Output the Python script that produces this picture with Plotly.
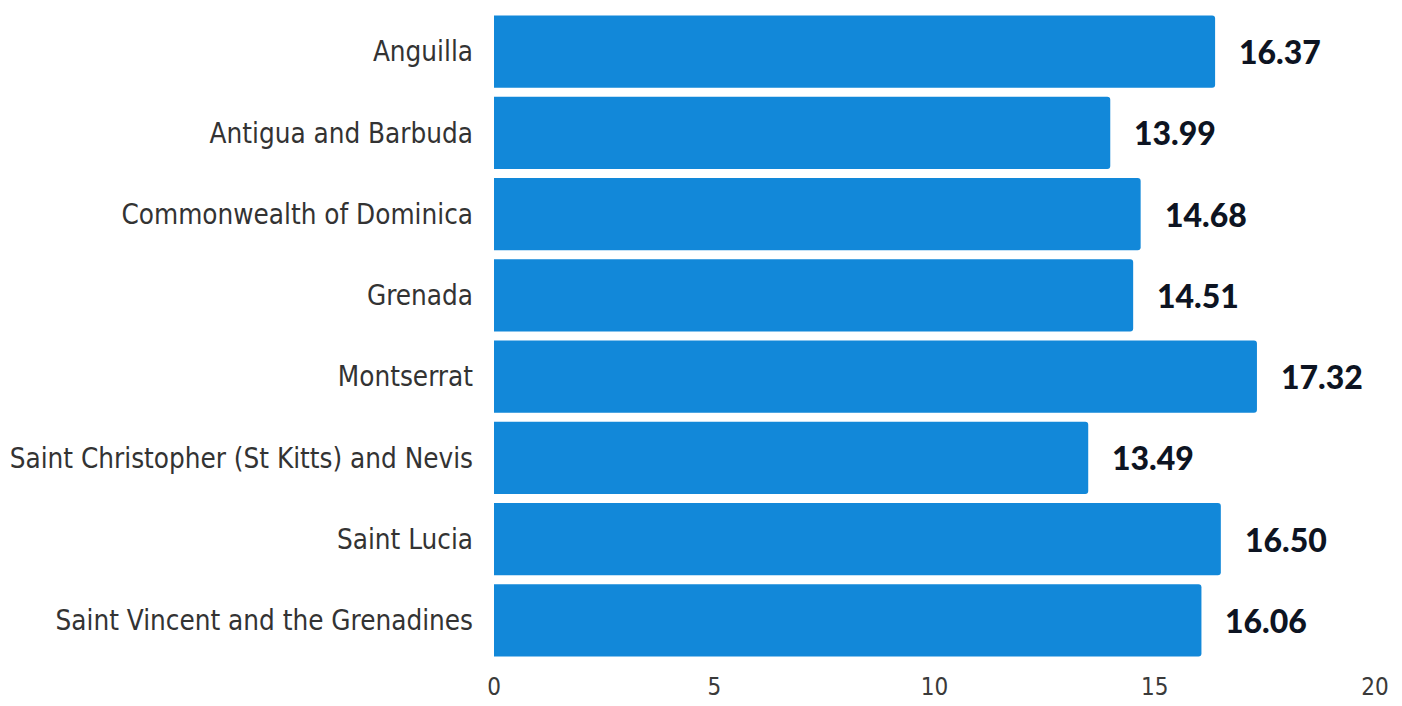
import plotly.graph_objects as go

countries = [
    "Anguilla",
    "Antigua and Barbuda",
    "Commonwealth of Dominica",
    "Grenada",
    "Montserrat",
    "Saint Christopher (St Kitts) and Nevis",
    "Saint Lucia",
    "Saint Vincent and the Grenadines",
]
values = [16.37, 13.99, 14.68, 14.51, 17.32, 13.49, 16.50, 16.06]
tick_vals = [0, 5, 10, 15, 20]

bar_color = "#1288D9"
label_font = "DejaVu Sans Condensed, DejaVu Sans"

fig = go.Figure()
fig.add_trace(go.Bar(
    x=values,
    y=countries,
    orientation="h",
    marker=dict(color=bar_color, line=dict(width=0), cornerradius=3),
    hoverinfo="x+y",
))

for c, v in zip(countries, values):
    fig.add_annotation(
        x=v, y=c, text=f"{v:.2f}", showarrow=False,
        xanchor="left", xshift=22, yshift=0,
        font=dict(family="Lato", size=32, color="#0d1422", weight=900),
    )

fig.update_layout(
    width=1402, height=706,
    margin=dict(l=494, r=27, t=11, b=45),
    paper_bgcolor="white", plot_bgcolor="white",
    bargap=0.11,
    showlegend=False,
    xaxis=dict(
        range=[0, 20], tickvals=tick_vals, showgrid=False, zeroline=False,
        showline=False, ticks="", ticklabelstandoff=9, automargin=False,
        tickfont=dict(family=label_font, size=24, color="#3a3a3a"),
    ),
    yaxis=dict(
        autorange="reversed", showgrid=False, zeroline=False, showline=False,
        ticks="", ticklabelstandoff=20, automargin=False,
        tickfont=dict(family=label_font, size=27.6, color="#333333"),
    ),
)

# remove the browser's default 8px page margin so the figure fills the window
fig.write_html(
    "out.html",
    config={"displayModeBar": False},
    post_script="document.body.style.margin='0';document.body.style.overflow='hidden';",
)
